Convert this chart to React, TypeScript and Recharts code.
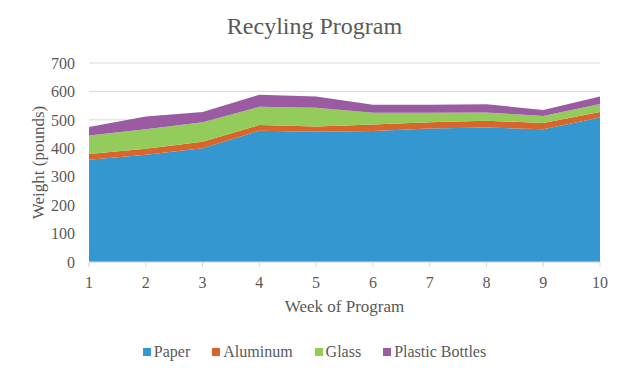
import { AreaChart, Area, XAxis, YAxis, CartesianGrid, Legend } from 'recharts';

// weekly weights in pounds
const weeks = [1, 2, 3, 4, 5, 6, 7, 8, 9, 10];
const paper = [360, 377, 400, 462, 458, 461, 470, 473, 467, 508];
const aluminum = [20, 21, 23, 20, 19, 23, 22, 24, 22, 20];
const glass = [65, 69, 69, 64, 66, 41, 33, 29, 25, 28];
const plastic = [30, 45, 36, 42, 39, 28, 28, 29, 21, 26];
const yTicks = [0, 100, 200, 300, 400, 500, 600, 700];

const series = [
  { key: 'paper', name: 'Paper', color: '#3497CF' },
  { key: 'aluminum', name: 'Aluminum', color: '#D9652B' },
  { key: 'glass', name: 'Glass', color: '#93CC5A' },
  { key: 'plastic', name: 'Plastic Bottles', color: '#9A5BA3' },
];

const data = weeks.map((w, i) => ({
  week: w,
  paper: paper[i],
  aluminum: aluminum[i],
  glass: glass[i],
  plastic: plastic[i],
}));

const font = 'Liberation Serif';
const grey = '#595959';

function LegendBox() {
  return (
    <div style={{ display: 'flex', justifyContent: 'center', gap: 22, fontFamily: font, fontSize: 16, color: grey }}>
      {series.map((s) => (
        <span key={s.key} style={{ display: 'flex', alignItems: 'center', fontFamily: font }}>
          <span style={{ width: 8, height: 8, background: s.color, marginRight: 3, display: 'inline-block' }} />
          {s.name}
        </span>
      ))}
    </div>
  );
}

export default function App() {
  return (
    <div style={{ margin: -8, width: 629, height: 377, position: 'relative', background: '#fff', fontFamily: font }}>
      <div style={{ position: 'absolute', inset: 0, border: '1px solid #d9d9d9', boxSizing: 'border-box' }} />
      <div style={{ position: 'absolute', top: 13, width: '100%', textAlign: 'center', fontSize: 24, color: grey }}>
        Recyling Program
      </div>
      <AreaChart
        width={629}
        height={377}
        data={data}
        margin={{ top: 63, right: 29, bottom: 0, left: 0 }}
        style={{ fontFamily: font }}
      >
        <CartesianGrid vertical={false} stroke="#d9d9d9" />
        <XAxis
          dataKey="week"
          height={115}
          stroke="#d9d9d9"
          tickSize={5}
          tickMargin={10}
          tick={{ fill: grey, fontSize: 16, fontFamily: font }}
          label={{ value: 'Week of Program', position: 'insideTop', dy: 33, fill: grey, fontSize: 17, fontFamily: font }}
        />
        <YAxis
          width={89}
          domain={[0, 700]}
          ticks={yTicks}
          axisLine={false}
          tickLine={false}
          tickMargin={8}
          tick={{ fill: grey, fontSize: 16, fontFamily: font }}
          label={{ value: 'Weight (pounds)', angle: -90, position: 'center', dx: -7, fill: grey, fontSize: 17, fontFamily: font }}
        />
        <Legend
          layout="horizontal"
          verticalAlign="middle"
          content={<LegendBox />}
          wrapperStyle={{ top: 343, left: 0, width: 629 }}
        />
        {series.map((s) => (
          <Area
            key={s.key}
            type="linear"
            dataKey={s.key}
            name={s.name}
            stackId="1"
            stroke="none"
            fill={s.color}
            fillOpacity={1}
            isAnimationActive={false}
          />
        ))}
      </AreaChart>
    </div>
  );
}
